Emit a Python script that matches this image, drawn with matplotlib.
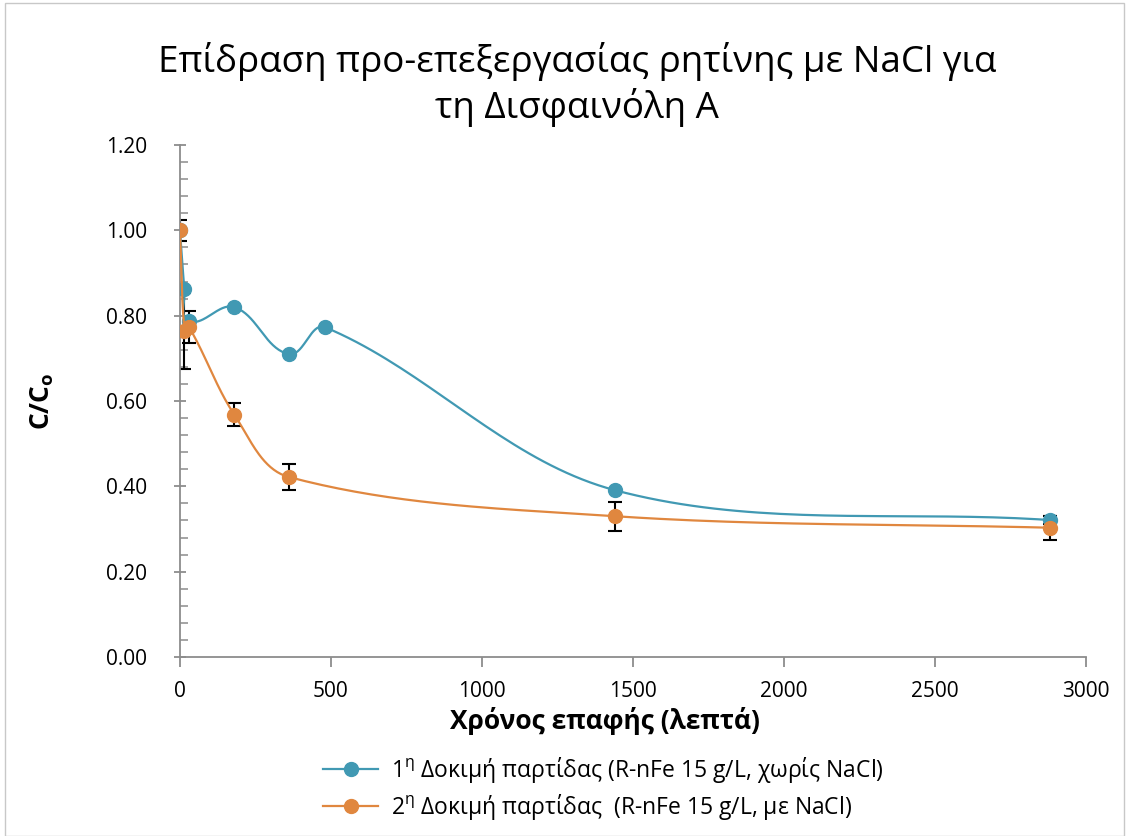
import matplotlib.pyplot as plt
import numpy as np
from matplotlib.patches import Rectangle

plt.rcParams['font.family'] = ['Open Sans', 'DejaVu Sans']
plt.rcParams['mathtext.fontset'] = 'custom'
plt.rcParams['mathtext.rm'] = 'Open Sans'
plt.rcParams['mathtext.bf'] = 'Open Sans:bold'

# data
time_1 = [0, 15, 30, 180, 360, 480, 1440, 2880]
ratio_1 = [1.00, 0.862, 0.787, 0.820, 0.710, 0.773, 0.391, 0.321]
err_1 = [0.0, 0.0, 0.0, 0.0, 0.0, 0.0, 0.0, 0.010]

time_2 = [0, 15, 30, 180, 360, 1440, 2880]
ratio_2 = [1.00, 0.764, 0.773, 0.568, 0.422, 0.330, 0.303]
err_2 = [0.025, 0.090, 0.037, 0.027, 0.030, 0.034, 0.028]

label_1 = r'1$^{\mathregular{η}}$ Δοκιμή παρτίδας (R-nFe 15 g/L, χωρίς NaCl)'
label_2 = r'2$^{\mathregular{η}}$ Δοκιμή παρτίδας  (R-nFe 15 g/L, με NaCl)'
blue = '#4199B3'
orange = '#E0873F'

XMAX, YMAX = 3000, 1.2


def smooth(xs, ys, n=40):
    # smoothed line through the points, tangents scaled by segment length
    sx, sy = 906 / XMAX, 512 / YMAX
    p = np.column_stack([np.asarray(xs) * sx, np.asarray(ys) * sy])
    k = len(p)
    tang = []
    for i in range(k):
        d = p[min(i + 1, k - 1)] - p[max(i - 1, 0)]
        tang.append(d / np.linalg.norm(d))
    out = [p[0]]
    for i in range(k - 1):
        p1, p2 = p[i], p[i + 1]
        L = np.linalg.norm(p2 - p1) * 0.34
        c1 = p1 + tang[i] * L
        c2 = p2 - tang[i + 1] * L
        t = np.linspace(0, 1, n)[1:, None]
        seg = (1 - t) ** 3 * p1 + 3 * (1 - t) ** 2 * t * c1 + 3 * (1 - t) * t ** 2 * c2 + t ** 3 * p2
        out.extend(seg)
    out = np.array(out)
    return out[:, 0] / sx, out[:, 1] / sy


fig = plt.figure(figsize=(11.29, 8.36), dpi=100)
ax = fig.add_axes([0.1594, 0.2141, 0.8025, 0.6125])

ax.errorbar(time_1, ratio_1, yerr=err_1, fmt='none', ecolor='black', elinewidth=1.5,
            capsize=5, capthick=1.5, zorder=2)
ax.errorbar(time_2, ratio_2, yerr=err_2, fmt='none', ecolor='black', elinewidth=1.5,
            capsize=5, capthick=1.5, zorder=2)

sx1, sy1 = smooth(time_1, ratio_1)
ax.plot(sx1, sy1, color=blue, lw=1.6, zorder=3)
ax.plot(time_1, ratio_1, 'o', color=blue, ms=10, zorder=3)
sx2, sy2 = smooth(time_2, ratio_2)
ax.plot(sx2, sy2, color=orange, lw=1.6, zorder=4)
ax.plot(time_2, ratio_2, 'o', color=orange, ms=10, zorder=4)

# legend handles
ax.plot([], [], '-o', color=blue, ms=10, lw=1.6, label=label_1)
ax.plot([], [], '-o', color=orange, ms=10, lw=1.6, label=label_2)

ax.set_xlim(0, XMAX)
ax.set_ylim(0, YMAX)
ax.set_xticks(np.arange(0, 3001, 500))
ax.set_yticks(np.arange(0, 1.21, 0.2))
ax.set_yticks(np.arange(0, 1.21, 0.04), minor=True)
ax.set_yticklabels([f'{v:.2f}' for v in np.arange(0, 1.21, 0.2)])

for s in ['top', 'right']:
    ax.spines[s].set_visible(False)
for s in ['left', 'bottom']:
    ax.spines[s].set_color('#8C8C8C')
    ax.spines[s].set_linewidth(1.3)
ax.tick_params(axis='both', which='major', color='#8C8C8C', width=1.3, length=9,
               direction='inout', labelsize=15)
ax.tick_params(axis='y', which='major', pad=19)
ax.tick_params(axis='y', which='minor', color='#8C8C8C', width=1.1, length=6, direction='in')
ax.tick_params(axis='x', which='major', direction='out', length=7, pad=10)

ax.set_xlabel('Χρόνος επαφής (λεπτά)', fontsize=19, fontweight='bold')
ax.xaxis.set_label_coords(0.469, -0.098)
ax.set_ylabel(r'$\mathbf{C/C_o}$', fontsize=19, labelpad=36)

fig.text(0.511, 0.927, 'Επίδραση προ-επεξεργασίας ρητίνης με NaCl για',
         ha='center', va='center', fontsize=26.5)
fig.text(0.511, 0.872, 'τη Δισφαινόλη Α', ha='center', va='center', fontsize=26.5)

fig.legend(loc='center left', bbox_to_anchor=(0.268, 0.057), frameon=False, fontsize=16.5,
           handlelength=2.4, labelspacing=0.3, handletextpad=0.55)

fig.patches.append(Rectangle((0.004, 0.0), 0.992, 0.996, transform=fig.transFigure,
                             fill=False, edgecolor='#C8C8C8', lw=1))

fig.savefig('out.png', dpi=100)
